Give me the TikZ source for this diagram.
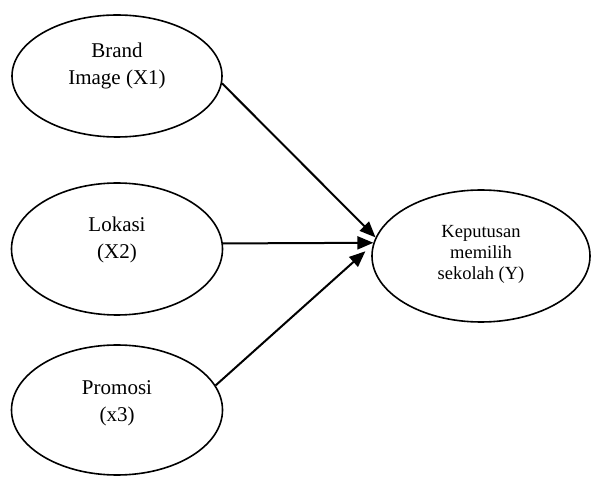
\documentclass[tikz,border=0pt]{standalone}
\usepackage{fontspec}
\setmainfont{Liberation Serif}
\usetikzlibrary{shapes.geometric,arrows.meta}
\begin{document}
\begin{tikzpicture}[x=1pt,y=1pt,
  var/.style={draw,ellipse,line width=1.6pt,inner sep=0pt},
  txt/.style={align=center,font=\fontsize{21}{27.5}\selectfont},
  txtsmall/.style={align=center,font=\fontsize{18.5}{21}\selectfont},
  link/.style={line width=2pt,-{Triangle[length=16pt,width=13pt]}}]
  \useasboundingbox (0,0) rectangle (592,477);
  % variables
  \node[var,minimum width=210pt,minimum height=122pt] (x1) at (117,401) {};
  \node[var,minimum width=211pt,minimum height=132pt] (x2) at (117,228) {};
  \node[var,minimum width=211pt,minimum height=130pt] (x3) at (117,67) {};
  \node[var,minimum width=218pt,minimum height=132pt] (y) at (481,221) {};
  \node[txt] (t1) at ([yshift=10pt]x1.center) {Brand\\Image (X1)};
  \node[txt] (t2) at ([yshift=9pt]x2.center) {Lokasi\\(X2)};
  \node[txt] (t3) at ([yshift=6.5pt]x3.center) {Promosi\\(x3)};
  \node[txtsmall] (ty) at ([yshift=2pt]y.center) {Keputusan\\memilih\\sekolah (Y)};
  % arrows
  \draw[link] (x1.-4) -- (y.170);
  \draw[link] (x2.3) -- (y.173);
  \draw[link,shorten >=10pt] (x3.14) -- (y.174);
\end{tikzpicture}
\end{document}
